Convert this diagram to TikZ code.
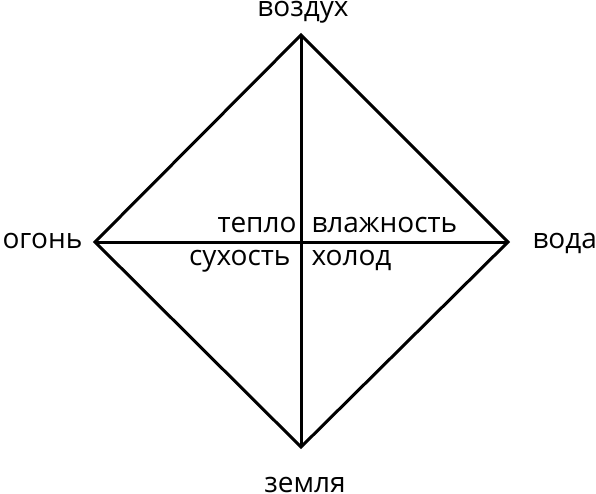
\documentclass[tikz,border=0pt]{standalone}
\usepackage{fontspec}
\setmainfont{Open Sans}
\usetikzlibrary{positioning}

\begin{document}
\begin{tikzpicture}[x=1pt,y=-1pt,line width=3pt,
    word/.style={font=\fontsize{28}{28}\selectfont,inner sep=0pt}]
        \useasboundingbox (0,0) rectangle (596,494);
        \coordinate (top) at (301,35);
        \coordinate (bot) at (301,447);
        \coordinate (lft) at (95,242);
        \coordinate (rgt) at (508,242);
        \node[word,anchor=base] (air) at (303,17) {воздух};
        \node[word,anchor=base] (earth) at (305,492) {земля};
        \node[word,anchor=base west] (fire) at (1,248) {огонь};
        \node[word,anchor=base west] (water) at (531,248) {вода};
        \node[word,anchor=base east] (warm) at (298,232) {тепло};
        \node[word,anchor=base west] (wet) at (310,232) {влажность};
        \node[word,anchor=base east] (dry) at (292,265) {сухость};
        \node[word,anchor=base west] (cold) at (310,265) {холод};
        \draw (top) -- (rgt) -- (bot) -- (lft) -- cycle;
        \draw (top) -- (bot)
        (lft) -- (rgt);
    \end{tikzpicture}
\end{document}
